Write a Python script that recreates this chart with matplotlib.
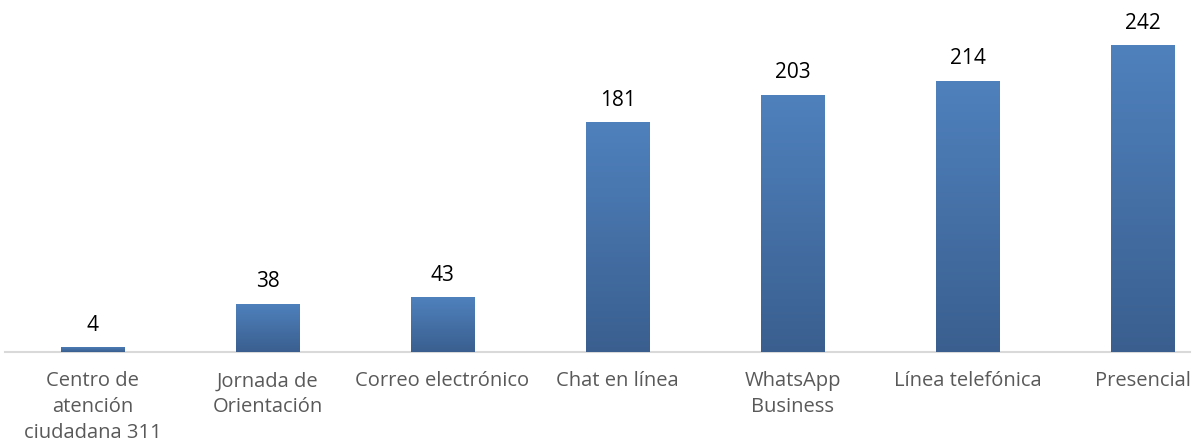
import matplotlib
matplotlib.use("Agg")
import matplotlib.pyplot as plt
import numpy as np
from matplotlib.colors import LinearSegmentedColormap

categories = ["Centro de\natención\nciudadana 311", "Jornada de\nOrientación",
              "Correo electrónico", "Chat en línea", "WhatsApp\nBusiness",
              "Línea telefónica", "Presencial"]
values = [4, 38, 43, 181, 203, 214, 242]

plt.rcParams['font.family'] = ['Open Sans', 'DejaVu Sans']

fig = plt.figure(figsize=(11.94, 4.42), dpi=100)
ax = fig.add_axes([0.0, 0.2036, 1.0, 0.7964])

x = np.arange(len(categories))
width = 0.36
bars = ax.bar(x, values, width, color='#4a78b2', zorder=2)

# vertical gradient on each bar
cmap = LinearSegmentedColormap.from_list('grad', ['#3a5f8f', '#4f81bd'])
grad = np.linspace(0, 1, 256).reshape(-1, 1)
for bar, val in zip(bars, values):
    x0 = bar.get_x()
    im = ax.imshow(grad, cmap=cmap, origin='lower', aspect='auto',
                   extent=[x0, x0 + width, 0, val], zorder=3)
    im.set_clip_path(bar)
    ax.text(bar.get_x() + width / 2, val + 9, f'{val}', ha='center', va='bottom',
            fontsize=15, color='black')

ax.set_xlim(-0.5286, 6.294)
ax.set_ylim(0, 277.5)
ax.set_yticks([])
ax.set_xticks(x)
ax.set_xticklabels(categories, fontsize=14.5, color='#595959', linespacing=1.4)
ax.tick_params(axis='x', length=0, pad=14)
for side in ['top', 'right', 'left']:
    ax.spines[side].set_visible(False)
ax.spines['bottom'].set_color('#d9d9d9')
ax.spines['bottom'].set_linewidth(1.5)
ax.spines['bottom'].set_bounds(-0.5, 6.27)

fig.savefig('out.png', dpi=100)
